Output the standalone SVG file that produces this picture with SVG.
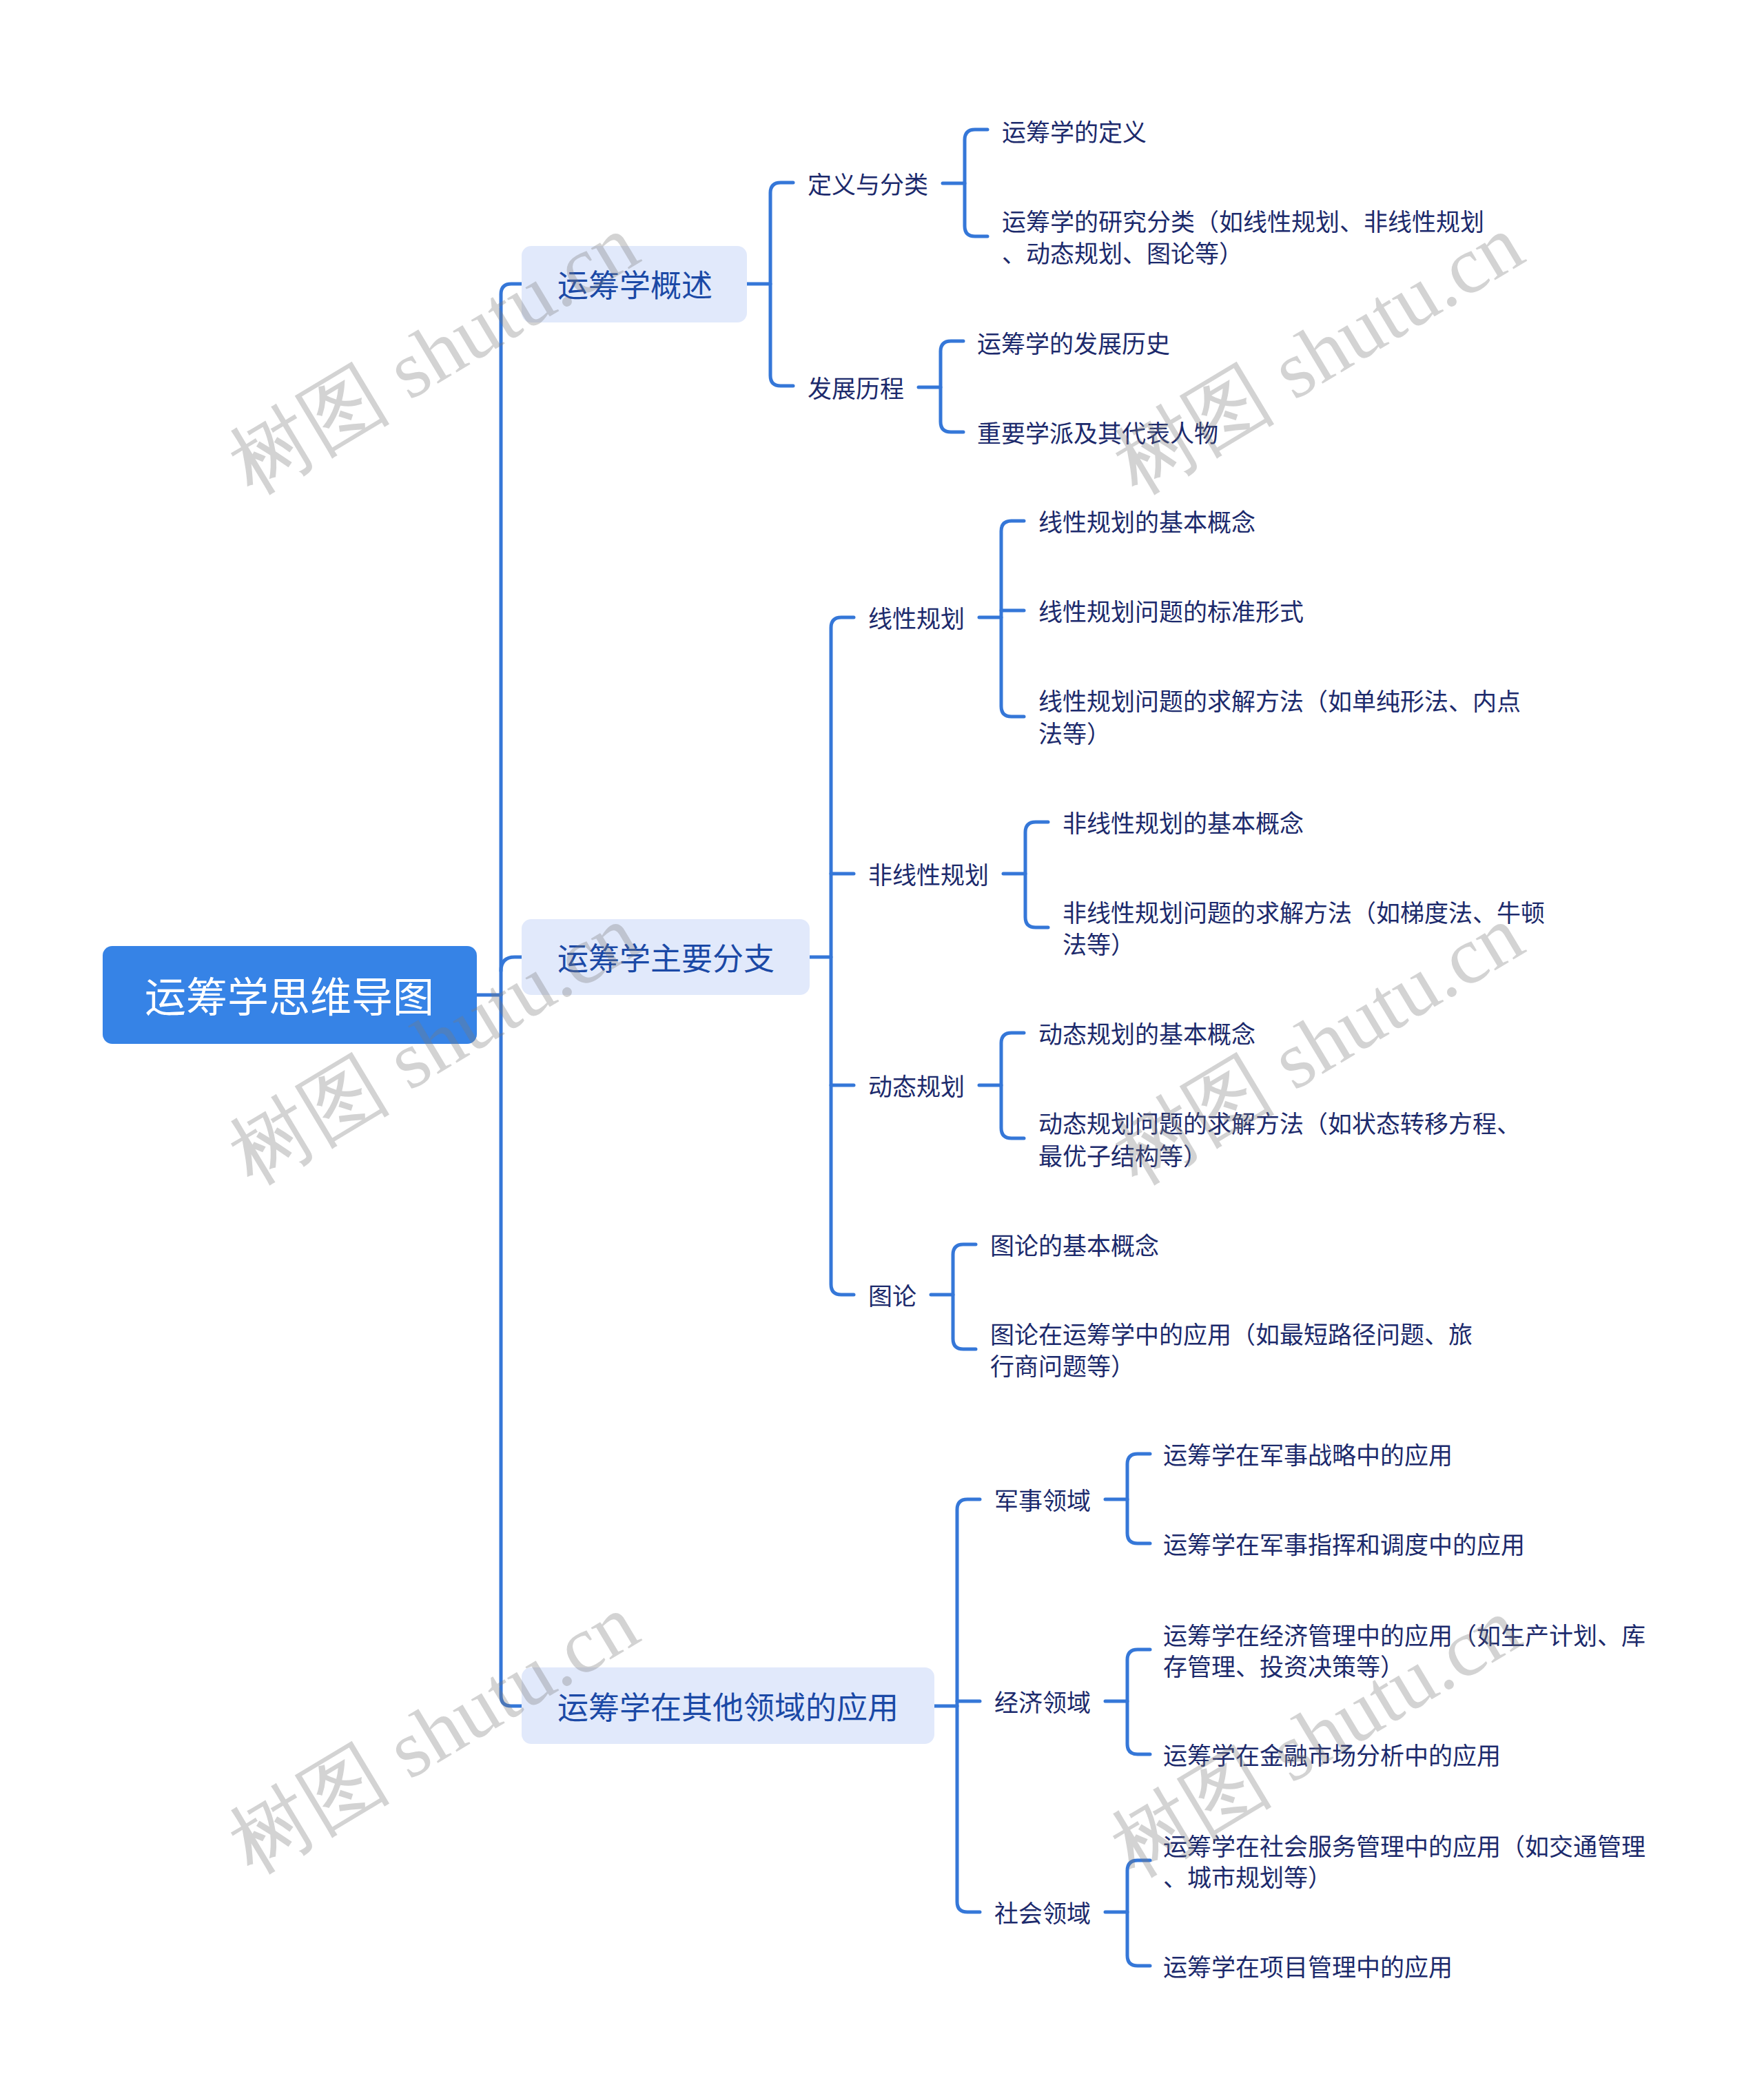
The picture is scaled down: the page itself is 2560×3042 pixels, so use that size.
<svg xmlns="http://www.w3.org/2000/svg" width="2560" height="3042" viewBox="0 0 2560 3042">
<defs>
<style>
text{font-family:"Noto Sans CJK SC","Noto Sans",sans-serif;dominant-baseline:central}
.root-box{fill:#3683e6}
.root-t{fill:#ffffff;font-size:60px}
.l1-box{fill:#e1e9fb}
.l1-t{fill:#1b49a6;font-size:45px}
.t{fill:#1c2a6c;font-size:35px}
.conn path{fill:none;stroke:#3577d8;stroke-width:5;stroke-linecap:round}
.wm{font-family:"Liberation Serif",serif;font-size:118px;fill:#7a7a7a;fill-opacity:0.33;dominant-baseline:auto}
</style>
</defs>
<rect width="2560" height="3042" fill="#ffffff"/>

<g class="conn" id="connectors">
<path d="M692 1444H727"/>
<path d="M757 412H742Q727 412 727 427V2461Q727 2476 742 2476H757"/>
<path d="M727 1409Q727 1389 747 1389H757"/>
<path d="M1084 412H1118"/>
<path d="M1151 265H1133Q1118 265 1118 280V545Q1118 560 1133 560H1151"/>
<path d="M1368 266H1400"/>
<path d="M1433 188H1415Q1400 188 1400 203V328Q1400 343 1415 343H1433"/>
<path d="M1333 562H1365"/>
<path d="M1398 495H1380Q1365 495 1365 510V612Q1365 627 1380 627H1398"/>
<path d="M1175 1389H1206"/>
<path d="M1239 896H1221Q1206 896 1206 911V1864Q1206 1879 1221 1879H1239"/>
<path d="M1206 1268H1239"/>
<path d="M1206 1575H1239"/>
<path d="M1421 896H1453"/>
<path d="M1486 756H1468Q1453 756 1453 771V1025Q1453 1040 1468 1040H1486"/>
<path d="M1453 886H1486"/>
<path d="M1456 1268H1488"/>
<path d="M1521 1193H1503Q1488 1193 1488 1208V1331Q1488 1346 1503 1346H1521"/>
<path d="M1421 1575H1453"/>
<path d="M1486 1499H1468Q1453 1499 1453 1514V1637Q1453 1652 1468 1652H1486"/>
<path d="M1351 1879H1383"/>
<path d="M1416 1806H1398Q1383 1806 1383 1821V1943Q1383 1958 1398 1958H1416"/>
<path d="M1356 2476H1389"/>
<path d="M1422 2176H1404Q1389 2176 1389 2191V2760Q1389 2775 1404 2775H1422"/>
<path d="M1389 2469H1422"/>
<path d="M1604 2176H1636"/>
<path d="M1669 2110H1651Q1636 2110 1636 2125V2225Q1636 2240 1651 2240H1669"/>
<path d="M1604 2469H1636"/>
<path d="M1669 2394H1651Q1636 2394 1636 2409V2531Q1636 2546 1651 2546H1669"/>
<path d="M1604 2775H1636"/>
<path d="M1669 2700H1651Q1636 2700 1636 2715V2838Q1636 2853 1651 2853H1669"/>
</g>

<g id="root"><rect class="root-box" x="149" y="1373" width="543" height="142" rx="14"/><text class="root-t" x="420" y="1442" text-anchor="middle">运筹学思维导图</text></g>

<g id="n1"><rect class="l1-box" x="757" y="357" width="327" height="111" rx="14"/><text class="l1-t" x="809" y="411">运筹学概述</text></g>
<g id="n2"><rect class="l1-box" x="757" y="1334" width="418" height="110" rx="14"/><text class="l1-t" x="809" y="1388">运筹学主要分支</text></g>
<g id="n3"><rect class="l1-box" x="757" y="2420" width="599" height="111" rx="14"/><text class="l1-t" x="809" y="2475">运筹学在其他领域的应用</text></g>

<g id="n1-1"><text class="t" x="1172" y="265">定义与分类</text></g>
<g id="n1-1-1"><text class="t" x="1454" y="189">运筹学的定义</text></g>
<g id="n1-1-2"><text class="t" x="1454" y="319">运筹学的研究分类（如线性规划、非线性规划</text><text class="t" x="1454" y="365">、动态规划、图论等）</text></g>
<g id="n1-2"><text class="t" x="1172" y="561">发展历程</text></g>
<g id="n1-2-1"><text class="t" x="1418" y="496">运筹学的发展历史</text></g>
<g id="n1-2-2"><text class="t" x="1418" y="626">重要学派及其代表人物</text></g>

<g id="n2-1"><text class="t" x="1260" y="895">线性规划</text></g>
<g id="n2-1-1"><text class="t" x="1507" y="755">线性规划的基本概念</text></g>
<g id="n2-1-2"><text class="t" x="1507" y="885">线性规划问题的标准形式</text></g>
<g id="n2-1-3"><text class="t" x="1507" y="1015">线性规划问题的求解方法（如单纯形法、内点</text><text class="t" x="1507" y="1062">法等）</text></g>
<g id="n2-2"><text class="t" x="1260" y="1267">非线性规划</text></g>
<g id="n2-2-1"><text class="t" x="1542" y="1192">非线性规划的基本概念</text></g>
<g id="n2-2-2"><text class="t" x="1542" y="1322">非线性规划问题的求解方法（如梯度法、牛顿</text><text class="t" x="1542" y="1368">法等）</text></g>
<g id="n2-3"><text class="t" x="1260" y="1574">动态规划</text></g>
<g id="n2-3-1"><text class="t" x="1507" y="1498">动态规划的基本概念</text></g>
<g id="n2-3-2"><text class="t" x="1507" y="1628">动态规划问题的求解方法（如状态转移方程、</text><text class="t" x="1507" y="1675">最优子结构等）</text></g>
<g id="n2-4"><text class="t" x="1260" y="1878">图论</text></g>
<g id="n2-4-1"><text class="t" x="1437" y="1805">图论的基本概念</text></g>
<g id="n2-4-2"><text class="t" x="1437" y="1934">图论在运筹学中的应用（如最短路径问题、旅</text><text class="t" x="1437" y="1980">行商问题等）</text></g>

<g id="n3-1"><text class="t" x="1443" y="2175">军事领域</text></g>
<g id="n3-1-1"><text class="t" x="1688" y="2109">运筹学在军事战略中的应用</text></g>
<g id="n3-1-2"><text class="t" x="1688" y="2239">运筹学在军事指挥和调度中的应用</text></g>
<g id="n3-2"><text class="t" x="1443" y="2468">经济领域</text></g>
<g id="n3-2-1"><text class="t" x="1688" y="2371">运筹学在经济管理中的应用（如生产计划、库</text><text class="t" x="1688" y="2416">存管理、投资决策等）</text></g>
<g id="n3-2-2"><text class="t" x="1688" y="2545">运筹学在金融市场分析中的应用</text></g>
<g id="n3-3"><text class="t" x="1443" y="2774">社会领域</text></g>
<g id="n3-3-1"><text class="t" x="1688" y="2677">运筹学在社会服务管理中的应用（如交通管理</text><text class="t" x="1688" y="2722">、城市规划等）</text></g>
<g id="n3-3-2"><text class="t" x="1688" y="2852">运筹学在项目管理中的应用</text></g>

<g id="watermarks">
<text class="wm" transform="translate(650 548) rotate(-31)" text-anchor="middle">树图 shutu.cn</text>
<text class="wm" transform="translate(1934 548) rotate(-31)" text-anchor="middle">树图 shutu.cn</text>
<text class="wm" transform="translate(650 1550) rotate(-31)" text-anchor="middle">树图 shutu.cn</text>
<text class="wm" transform="translate(1934 1550) rotate(-31)" text-anchor="middle">树图 shutu.cn</text>
<text class="wm" transform="translate(650 2550) rotate(-31)" text-anchor="middle">树图 shutu.cn</text>
<text class="wm" transform="translate(1930 2555) rotate(-31)" text-anchor="middle">树图 shutu.cn</text>
</g>
</svg>
